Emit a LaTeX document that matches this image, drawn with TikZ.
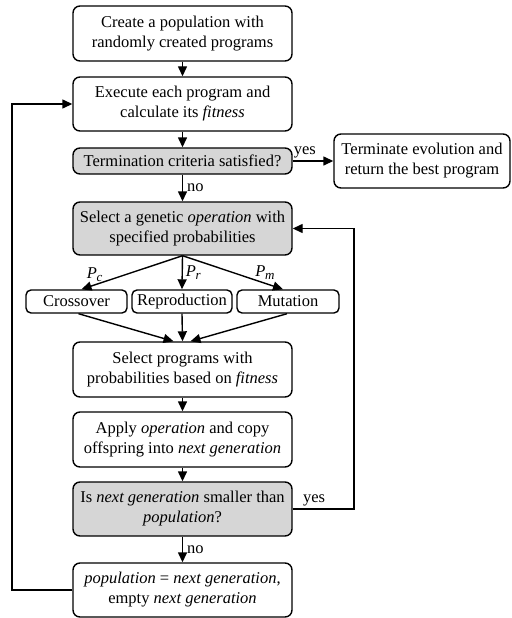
\documentclass[tikz,border=0pt]{standalone}
\usepackage{fontspec}
\setmainfont{Liberation Serif}
\usetikzlibrary{arrows.meta,positioning}
% italic probability symbol with a subscript
\newcommand{\probsym}[1]{{\itshape P\kern-0.5pt\raisebox{-3pt}{\fontsize{13}{13}\selectfont #1}}}
\begin{document}
\begin{tikzpicture}[x=1pt,y=-1pt,
  font=\fontsize{16.5}{20}\selectfont,
  box/.style={draw, line width=1.4pt, rounded corners=7pt, align=center,
    inner sep=0pt, fill=white},
  gbox/.style={box, fill=black!16},
  arr/.style={line width=1.4pt, -{Triangle[length=10pt,width=9pt]}},
  lbl/.style={inner sep=0pt}]
\useasboundingbox (0,0) rectangle (511,618);

\node[box, minimum width=219pt, minimum height=55pt] (b1) at (182.5,33.5)
  {Create a population with\\randomly created programs};
\node[box, minimum width=219pt, minimum height=54pt] (b2) at (182.5,104)
  {Execute each program and\\calculate its \textit{fitness}};
\node[gbox, minimum width=219pt, minimum height=26pt] (b3) at (182.5,161)
  {Termination criteria satisfied?};
\node[box, minimum width=176pt, minimum height=54pt] (term) at (422,161)
  {Terminate evolution and\\return the best program};
\node[gbox, minimum width=219pt, minimum height=53pt] (b4) at (182.5,228.5)
  {Select a genetic \textit{operation} with\\specified probabilities};
\node[box, rounded corners=5pt, minimum width=101pt, minimum height=23pt] (cross) at (76.5,301.5)
  {Crossover};
\node[box, rounded corners=5pt, minimum width=100pt, minimum height=23pt] (repro) at (182,301.5)
  {Reproduction};
\node[box, rounded corners=5pt, minimum width=102pt, minimum height=23pt] (mut) at (288,301.5)
  {Mutation};
\node[box, minimum width=219pt, minimum height=55pt] (b5) at (182.5,369.5)
  {Select programs with\\probabilities based on \textit{fitness}};
\node[box, minimum width=219pt, minimum height=55pt] (b6) at (182.5,439.5)
  {Apply \textit{operation} and copy\\offspring into \textit{next generation}};
\node[gbox, minimum width=219pt, minimum height=54pt] (b7) at (182.5,509)
  {Is \textit{next generation} smaller than\\\textit{population}?};
\node[box, minimum width=219pt, minimum height=54pt] (b8) at (182.5,590)
  {\textit{population} = \textit{next generation},\\empty \textit{next generation}};

% main flow
\draw[arr] (b1) -- (b2);
\draw[arr] (b2) -- (b3);
\draw[arr] (b3) -- node[lbl, right=4pt] {no} (b4);
\draw[arr] (b3) -- node[lbl, above=2pt, pos=0.3] {yes} (term);

% choice of genetic operation
\draw[arr] (b4.south) -- node[lbl, pos=0.87, above=3pt] {\probsym{c}} ([xshift=5pt]cross.north);
\draw[arr] (b4.south) -- node[lbl, pos=0.5, right=3pt] {\probsym{r}} (repro.north);
\draw[arr] (b4.south) -- node[lbl, pos=0.82, above=3pt] {\probsym{m}} ([xshift=-5pt]mut.north);

\draw[arr] ([xshift=2pt]cross.south) -- ([xshift=-9pt]b5.north);
\draw[arr] (repro.south) -- (b5.north);
\draw[arr] ([xshift=-1pt]mut.south) -- ([xshift=8pt]b5.north);

\draw[arr] (b5) -- (b6);
\draw[arr] (b6) -- (b7);
\draw[arr] (b7) -- node[lbl, right=4pt] {no} (b8);

% loops
\coordinate (rtop) at (354,228.5);
\coordinate (rbot) at (354,509);
\draw[arr] (b7.east) -- node[lbl, above=2pt, pos=0.35] {yes} (rbot) -- (rtop) -- (b4.east);
\coordinate (ltop) at (12,104);
\coordinate (lbot) at (12,590);
\draw[arr] (b8.west) -- (lbot) -- (ltop) -- (b2.west);
\end{tikzpicture}
\end{document}
